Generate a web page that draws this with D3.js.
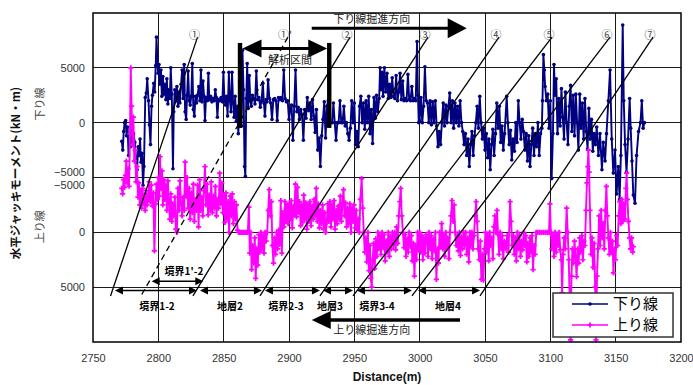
<!DOCTYPE html>
<html>
<head>
<meta charset="utf-8">
<script src="https://cdn.jsdelivr.net/npm/d3@7"></script>
<style>
  body { margin: 0; background: #fff; }
  svg { display: block; }
</style>
</head>
<body>
<svg id="chart" width="693" height="385"></svg>
<script>
// ---- data: horizontal jack moment (kN·m) against distance (m) ----
const downLine = [ // 下り線
  [2772.0,-1700],[2772.8,-2500],[2773.5,-800],[2774.2,0],[2775.0,200],[2775.7,-1200],[2776.5,-400],[2777.2,-3000],[2778.0,-1300],[2778.8,-2200],
  [2779.5,-700],[2780.3,-1900],[2781.0,-1000],[2782.0,-1800],[2783.0,-3500],[2783.8,-4300],[2784.5,-2200],[2785.3,-3000],[2786.0,-1500],[2786.8,-3600],
  [2787.5,-2800],[2788.3,-5700],[2789.0,-4000],[2790.0,2300],[2790.8,2700],[2791.5,4000],[2792.5,2000],[2793.2,-200],[2794.0,-2000],[2794.8,1500],
  [2795.5,2500],[2796.5,3600],[2797.2,2800],[2798.0,5200],[2798.6,7800],[2799.2,6000],[2799.8,4500],[2800.5,5300],[2801.2,3500],[2802.0,4800],
  [2802.7,2400],[2803.5,4200],[2804.2,2600],[2805.0,3500],[2805.8,2100],[2806.5,4000],[2807.3,1700],[2808.0,3000],[2808.8,2200],[2809.5,5000],
  [2810.3,2600],[2811.2,-4200],[2811.8,1000],[2812.6,3000],[2813.4,2000],[2814.2,3300],[2815.0,1500],[2815.8,2800],[2816.5,1800],[2817.4,3500],
  [2818.2,4800],[2819.0,2200],[2819.8,5300],[2820.5,1000],[2821.3,300],[2822.0,2500],[2822.8,4700],[2823.6,2000],[2824.4,1600],[2825.2,2400],
  [2826.0,5400],[2826.8,1200],[2827.6,600],[2828.4,2400],[2829.2,1800],[2830.0,2500],[2831.0,3300],[2831.8,2000],[2832.6,4800],[2833.4,1900],
  [2834.2,3800],[2835.0,2400],[2835.7,200],[2836.5,2300],[2837.5,2000],[2838.3,4500],[2839.0,2100],[2840.0,2400],[2841.0,1900],[2842.0,2200],
  [2842.8,2000],[2843.6,3000],[2844.4,2300],[2845.2,500],[2846.0,2100],[2847.0,2000],[2848.0,2300],[2849.0,1900],[2849.8,4600],[2850.6,2100],
  [2851.4,1600],[2852.2,2400],[2853.0,600],[2854.0,4600],[2854.8,2000],[2855.6,1000],[2856.4,4600],[2857.2,1800],[2858.0,500],[2858.8,2400],
  [2859.6,100],[2860.4,1500],[2861.2,-1000],[2862.0,800],[2862.8,2500],[2863.6,-300],[2864.4,6600],[2865.2,3000],[2866.0,-4000],[2866.6,-4900],
  [2867.3,2200],[2868.0,5400],[2868.8,1300],[2869.6,4300],[2870.4,2000],[2871.2,1500],[2872.0,2500],[2873.0,2200],[2874.0,1700],[2875.0,4700],
  [2876.0,2100],[2877.0,2300],[2878.0,1400],[2879.0,2000],[2880.0,3600],[2880.8,1800],[2881.6,600],[2882.4,2100],[2883.2,1900],[2884.0,3900],
  [2885.0,2200],[2886.0,1800],[2887.0,300],[2888.0,2100],[2889.0,2200],[2890.0,2000],[2891.0,200],[2892.0,2300],[2893.0,2100],[2894.0,2300],
  [2895.0,2000],[2896.0,4800],[2897.0,2200],[2898.0,1900],[2899.0,2000],[2900.0,300],[2901.0,1200],[2902.0,1600],[2903.0,-1600],[2904.0,1500],
  [2905.0,4800],[2906.0,1000],[2907.0,1400],[2908.0,300],[2909.0,1200],[2910.0,700],[2911.0,-1600],[2912.0,1200],[2913.0,400],[2914.0,2300],
  [2915.0,1100],[2916.0,1800],[2917.0,300],[2918.0,2100],[2919.0,600],[2920.0,-900],[2921.0,1200],[2922.0,-2500],[2923.0,-1400],[2924.0,-4000],
  [2925.0,-1200],[2926.0,300],[2927.0,1900],[2928.0,-1400],[2929.0,1500],[2930.0,2000],[2931.0,300],[2932.0,0],[2933.0,0],[2934.0,1800],
  [2935.0,0],[2936.0,-1600],[2937.0,0],[2938.0,0],[2939.0,2000],[2940.0,0],[2941.0,0],[2942.0,1500],[2943.0,-300],[2944.0,0],
  [2945.0,-1000],[2946.0,-1600],[2947.0,-500],[2948.0,2000],[2949.0,0],[2950.0,1800],[2951.0,-2000],[2952.0,-800],[2953.0,-2200],[2954.0,1500],
  [2955.0,2400],[2956.0,0],[2957.0,1800],[2958.0,-600],[2959.0,2000],[2960.0,0],[2961.0,2400],[2962.0,-1000],[2963.0,1200],[2964.0,-1900],
  [2965.0,2300],[2966.0,400],[2967.0,2500],[2968.0,1000],[2969.0,2200],[2969.7,5000],[2970.5,3000],[2971.3,4600],[2972.0,2400],[2973.0,5000],
  [2974.0,2800],[2975.0,4500],[2976.0,2200],[2977.0,3500],[2978.0,2300],[2979.0,4100],[2980.0,2400],[2981.0,2200],[2982.0,4300],[2983.0,2000],
  [2984.0,2800],[2985.0,4500],[2986.0,2100],[2987.0,3800],[2988.0,2000],[2989.0,2200],[2990.0,2000],[2991.0,4400],[2992.0,2100],[2993.0,2000],
  [2994.0,3300],[2995.0,2000],[2996.0,2200],[2997.0,2000],[2998.0,7400],[2998.7,2500],[2999.3,0],[3000.0,200],[3001.0,2300],[3002.0,0],
  [3003.0,1500],[3004.0,5100],[3005.0,2000],[3006.0,1800],[3007.0,0],[3008.0,2000],[3009.0,-200],[3010.0,1900],[3011.0,0],[3012.0,2000],
  [3013.0,-300],[3014.0,-2200],[3015.0,-800],[3016.0,-2000],[3017.0,0],[3018.0,1800],[3019.0,-300],[3020.0,1600],[3021.0,0],[3022.0,1500],
  [3023.0,2700],[3024.0,0],[3025.0,2000],[3026.0,-500],[3027.0,1800],[3028.0,0],[3029.0,1500],[3030.0,-300],[3031.0,2000],[3032.0,0],
  [3033.0,-800],[3034.0,-2000],[3035.0,-1000],[3036.0,-3000],[3037.0,-1500],[3038.0,-4000],[3039.0,-2000],[3040.0,-800],[3041.0,-3000],[3042.0,-1200],
  [3043.0,0],[3044.0,1500],[3045.0,-500],[3046.0,2400],[3047.0,0],[3048.0,-1500],[3049.0,-500],[3050.0,-2500],[3051.0,-1000],[3052.0,-3200],
  [3053.0,-1500],[3054.0,-4300],[3055.0,-2000],[3056.0,-600],[3057.0,-3000],[3058.0,-1000],[3059.0,1800],[3060.0,-500],[3061.0,1500],[3062.0,-1800],
  [3063.0,-300],[3064.0,-2500],[3065.0,-1000],[3066.6,2400],[3067.5,0],[3068.5,-2000],[3069.5,-700],[3070.5,-3400],[3071.5,-1500],[3072.5,-2600],
  [3073.5,0],[3074.5,-1800],[3075.5,2000],[3076.5,0],[3077.5,-1500],[3078.5,300],[3079.5,-800],[3080.5,-2500],[3081.5,-1000],[3082.5,-3500],
  [3083.5,-1200],[3084.5,-4000],[3085.5,-2000],[3086.5,-500],[3087.5,-3000],[3088.5,-1000],[3089.5,-2200],[3090.5,0],[3091.5,-3000],[3092.5,-1000],
  [3093.5,-500],[3094.0,2000],[3094.7,6200],[3095.4,4800],[3096.0,3300],[3097.0,2000],[3098.0,2600],[3099.0,-500],[3100.0,2000],[3101.0,-5100],
  [3102.0,-1000],[3102.8,5300],[3103.6,2500],[3104.5,4000],[3105.5,-1000],[3106.5,2200],[3107.5,-300],[3108.5,3100],[3109.5,500],[3110.5,-1500],
  [3111.5,2800],[3112.5,0],[3113.5,-2000],[3114.5,1500],[3115.5,3400],[3116.5,-800],[3117.5,2500],[3118.5,-1200],[3119.5,2600],[3120.5,0],
  [3121.5,-2500],[3122.5,2600],[3123.5,-500],[3124.5,1800],[3125.5,-1500],[3126.5,2200],[3127.5,-800],[3128.5,-2400],[3129.5,1300],[3130.5,-1500],
  [3131.5,300],[3132.5,-2600],[3133.5,-1000],[3134.5,-2000],[3135.5,-400],[3136.8,-3000],[3138.0,-1000],[3139.5,-4300],[3140.5,-1800],[3141.9,-3500],
  [3143.0,-1000],[3144.4,2000],[3145.7,4800],[3147.0,-1500],[3148.2,-4600],[3149.5,-2500],[3150.7,-6500],[3152.0,-4000],[3153.0,-7000],[3154.0,-3000],
  [3155.4,8900],[3156.2,2000],[3157.2,-2000],[3158.3,-4500],[3159.5,-1500],[3160.7,2200],[3161.5,-500],[3162.5,-3500],[3163.5,-6600],[3164.8,-7350],
  [3166.0,-3000],[3167.5,-800],[3169.0,0],[3170.0,2000],[3171.0,-500],[3172.0,0]
];

const upLine = [ // 上り線
  [2772.0,-4000],[2772.7,-3500],[2773.4,-4800],[2774.1,-4100],[2774.8,-5200],[2775.5,-6500],[2776.2,-4500],[2776.9,-5800],[2777.6,-4200],[2778.3,-9000],
  [2778.9,-15000],[2779.5,-11500],[2780.2,-8000],[2780.9,-10500],[2781.6,-6500],[2782.3,-7500],[2783.0,-4600],[2783.7,-6000],[2784.4,-3200],[2785.1,-4500],
  [2785.8,-2500],[2786.5,-3800],[2787.2,-2200],[2787.9,-4000],[2788.6,-2600],[2789.3,-3400],[2790.0,-2000],[2790.7,-3800],[2791.4,-2500],[2792.1,-3000],
  [2793.0,-4600],[2793.8,-2800],[2794.6,-4300],[2795.4,-2400],[2796.2,-3600],[2797.0,1700],[2797.8,-2600],[2798.6,-4400],[2799.3,-3000],[2800.0,-5000],
  [2800.7,-3300],[2801.3,-6900],[2802.0,-4000],[2802.8,-5600],[2803.5,-2500],[2804.3,-4800],[2805.0,-3000],[2805.8,-4300],[2806.5,-2000],[2807.3,-4700],
  [2808.0,-2800],[2808.8,-1200],[2809.5,-3500],[2810.3,-1000],[2811.0,-2600],[2811.8,-1500],[2812.6,-3200],[2813.4,-300],[2814.2,0],[2815.0,-4000],
  [2815.8,-2000],[2816.6,-4700],[2817.4,-2600],[2818.2,-1500],[2819.0,-3200],[2819.8,-2000],[2820.5,-6400],[2821.3,-3300],[2822.0,-5000],[2822.8,-2200],
  [2823.6,-4000],[2824.4,-1200],[2825.2,-3600],[2826.0,-1800],[2826.8,-4400],[2827.6,-1000],[2828.4,-3000],[2829.2,-2000],[2830.0,-4300],[2830.8,-500],
  [2831.6,-4800],[2832.4,-2000],[2833.2,-3200],[2834.0,-1500],[2834.8,-3800],[2835.7,-6000],[2836.5,-2500],[2837.3,-4400],[2838.1,-1600],[2838.9,-3400],
  [2839.7,-2000],[2840.5,-4600],[2841.3,-1800],[2842.1,-3300],[2842.9,-2200],[2843.7,-4200],[2844.5,-1500],[2845.3,-3000],[2846.1,-2200],[2847.0,-5400],
  [2847.8,-2600],[2848.6,-4500],[2849.4,-1800],[2850.2,-3400],[2851.0,-900],[2851.8,-3600],[2852.6,-1200],[2853.4,-2800],[2854.2,0],[2855.0,-3300],
  [2855.8,-1500],[2856.6,-3500],[2857.4,-800],[2858.2,-2800],[2859.0,-1200],[2859.8,-2500],[2860.6,-200],[2861.4,0],[2862.5,0],[2863.5,0],
  [2864.5,0],[2865.5,0],[2866.5,0],[2867.5,0],[2868.5,0],[2869.3,-2300],[2870.0,1900],[2870.7,0],[2871.4,3400],[2872.2,1200],
  [2873.0,2800],[2873.8,500],[2874.5,4200],[2875.3,1500],[2876.1,3000],[2876.9,200],[2877.7,1800],[2878.5,0],[2879.3,1500],[2880.1,300],
  [2880.9,1900],[2881.7,0],[2882.5,800],[2883.3,0],[2884.1,-2000],[2884.9,-3900],[2885.7,-1500],[2886.5,-2800],[2887.3,1200],[2888.1,2800],
  [2888.9,500],[2889.7,2000],[2890.5,0],[2891.3,1500],[2892.1,-200],[2892.9,1100],[2893.7,-2900],[2894.5,1900],[2895.3,-1800],[2896.1,-500],
  [2896.9,-2800],[2897.7,-1000],[2898.5,-2500],[2899.3,-800],[2900.1,-2600],[2900.9,-1200],[2901.7,-2900],[2902.5,-400],[2903.3,-2400],[2904.1,-1600],
  [2904.9,-4400],[2905.7,-1400],[2906.5,-4100],[2907.3,-1800],[2908.1,-2800],[2908.9,-600],[2909.7,-2500],[2910.5,-900],[2911.3,-3400],[2912.1,-1200],
  [2912.9,-2700],[2913.7,-300],[2914.5,-2500],[2915.3,-1000],[2916.1,-2800],[2916.9,-600],[2917.7,-2400],[2918.5,-1200],[2919.3,-3000],[2920.1,-1500],
  [2920.9,-4000],[2921.7,-1000],[2922.5,-2600],[2923.3,-400],[2924.1,-2000],[2924.9,-800],[2925.7,-2500],[2926.5,-300],[2927.3,-1800],[2928.1,0],
  [2928.9,-900],[2929.7,-2600],[2930.5,-1000],[2931.3,-2800],[2932.1,-500],[2932.9,-2500],[2933.7,-1200],[2934.5,-2900],[2935.3,-300],[2936.1,-2000],
  [2936.9,-800],[2937.7,-2400],[2938.5,-1200],[2939.3,-3300],[2940.1,-1000],[2940.9,-2600],[2941.7,-3900],[2942.5,-1500],[2943.3,-2700],[2944.1,-500],
  [2945.0,-2200],[2945.8,-800],[2946.6,-2600],[2947.4,0],[2948.2,-2200],[2949.0,-1000],[2949.8,-2500],[2950.6,-400],[2951.4,-2000],[2952.2,-200],
  [2953.0,-1200],[2953.8,0],[2954.6,-3000],[2955.6,-4900],[2956.4,-2200],[2957.2,0],[2958.0,1800],[2958.8,500],[2959.6,2700],[2960.4,0],
  [2961.2,3500],[2962.0,1200],[2962.6,4200],[2963.3,5000],[2964.0,2500],[2964.8,1000],[2965.6,3300],[2966.4,600],[2967.2,2200],[2968.0,0],
  [2968.8,1500],[2969.6,300],[2970.4,2000],[2971.2,0],[2972.0,1400],[2972.8,200],[2973.6,2600],[2974.4,800],[2975.2,1800],[2976.0,0],
  [2976.8,2200],[2977.6,400],[2978.4,1500],[2979.2,0],[2980.0,1200],[2980.8,0],[2981.6,1600],[2982.4,-500],[2983.2,1000],[2984.0,-1500],
  [2984.8,-2800],[2985.5,-4000],[2986.3,-1500],[2987.2,0],[2988.0,1400],[2988.8,200],[2989.6,2200],[2990.4,600],[2991.2,1800],[2992.0,0],
  [2992.8,1300],[2993.6,300],[2994.4,2600],[2995.2,1000],[2996.0,4000],[2996.8,1200],[2997.6,2500],[2998.4,0],[2999.2,1600],[3000.0,0],
  [3000.8,1800],[3001.6,300],[3002.4,2500],[3003.2,600],[3004.0,1900],[3004.8,200],[3005.6,500],[3006.4,2200],[3007.2,0],[3008.0,1500],
  [3008.8,300],[3009.6,2400],[3010.4,600],[3011.2,1700],[3012.0,0],[3012.8,4300],[3013.6,1500],[3014.4,2800],[3015.2,0],[3016.0,1300],
  [3016.8,-800],[3017.6,1500],[3018.4,200],[3019.2,2200],[3020.0,0],[3020.8,1400],[3021.6,500],[3022.4,2400],[3023.2,0],[3024.0,-1500],
  [3024.8,-2900],[3025.6,-1000],[3026.4,-2500],[3027.2,0],[3028.0,1200],[3028.8,300],[3029.6,1700],[3030.4,0],[3031.2,2100],[3032.0,400],
  [3032.8,1500],[3033.6,0],[3034.4,1200],[3035.2,0],[3036.0,2000],[3036.8,500],[3037.6,2700],[3038.4,0],[3039.2,1200],[3040.0,0],
  [3040.8,1500],[3041.6,300],[3042.4,-1500],[3043.2,-2800],[3044.0,-1000],[3044.8,1500],[3045.6,2500],[3046.4,800],[3047.2,4300],[3048.0,2000],
  [3048.8,4350],[3049.6,1500],[3050.4,0],[3051.2,1800],[3052.0,300],[3052.8,2600],[3053.6,0],[3054.4,1200],[3055.2,500],[3056.0,2400],
  [3056.8,-500],[3057.6,-1500],[3058.4,0],[3059.2,-2000],[3060.0,200],[3060.8,2000],[3061.6,0],[3062.4,1500],[3063.2,300],[3064.0,2400],
  [3064.8,800],[3066.0,1500],[3067.0,300],[3068.0,1800],[3069.2,-2800],[3070.0,-1000],[3070.8,1200],[3071.6,300],[3072.4,2000],[3073.2,500],
  [3074.0,2600],[3074.8,0],[3075.6,1500],[3076.4,300],[3077.2,2200],[3078.0,800],[3078.8,1600],[3079.6,0],[3080.4,1200],[3081.2,300],
  [3082.0,2700],[3082.8,1000],[3083.6,2200],[3084.4,500],[3085.2,1800],[3086.0,300],[3086.8,3400],[3087.6,1200],[3088.4,2000],[3089.2,0],
  [3090.5,0],[3092.0,0],[3093.5,0],[3095.0,0],[3096.5,0],[3098.0,0],[3099.0,0],[3099.7,-2600],[3100.4,0],[3101.2,1500],
  [3102.0,300],[3102.8,2200],[3103.6,0],[3104.4,1800],[3105.2,200],[3106.0,1200],[3106.8,0],[3107.6,1600],[3108.4,2500],[3109.0,5500],
  [3109.8,2000],[3110.6,500],[3111.4,1500],[3112.5,-2200],[3113.3,0],[3114.1,2500],[3114.8,6000],[3115.5,9800],[3116.2,4000],[3116.9,1500],
  [3117.7,2800],[3118.5,800],[3119.3,2200],[3120.1,4050],[3120.9,1500],[3121.7,2800],[3122.5,500],[3123.3,1800],[3124.1,300],[3124.9,2500],
  [3125.7,800],[3126.5,1200],[3127.3,-2000],[3128.0,-4500],[3128.6,-6000],[3129.1,-7500],[3129.7,-5500],[3130.3,-2000],[3131.1,2000],[3131.9,500],
  [3132.7,3200],[3133.5,1000],[3134.3,5000],[3135.0,9800],[3135.7,4000],[3136.5,1500],[3137.3,-1500],[3138.1,1200],[3138.9,-2000],[3139.7,500],
  [3140.5,-800],[3141.3,1500],[3142.1,-2000],[3142.9,-4200],[3143.6,-1500],[3144.4,500],[3145.2,2000],[3146.0,0],[3146.8,1800],[3147.6,800],
  [3148.3,3700],[3149.1,1500],[3149.9,2500],[3150.7,300],[3151.5,1200],[3152.3,-1500],[3153.1,-2800],[3153.9,-800],[3154.7,-3000],[3155.5,-1000],
  [3156.3,-2600],[3157.1,-1200],[3157.8,-4000],[3158.4,-5400],[3159.0,-3000],[3159.8,-1000],[3160.6,500],[3161.4,1500],[3162.2,500],[3163.0,1800],
  [3163.5,1300]
];

const distanceTicks = [2750, 2800, 2850, 2900, 2950, 3000, 3050, 3100, 3150, 3200];
const downTicks = [5000, 0, -5000];
const upTicks = [-5000, 0, 5000];

// boundary lines: distance where each line meets the top (下り線 axis) and the bottom (上り線 axis)
const boundaryNames  = ["①", "①'", "②", "③", "④", "⑤", "⑥", "⑦"];
const boundaryTop    = [2830.0, 2899.2, 2946.7, 3006.4, 3060.7, 3101.3, 3145.7, 3178.6];
const boundaryBottom = [2763.4, 2786.7, 2826.5, 2877.8, 2923.7, 2949.0, 2994.1, 3046.2];
const boundaryDashed = [false, true, false, false, false, false, false, false];
const boundaryTopMoment = 7800;    // on the 下り線 axis
const boundaryBottomMoment = 5800; // on the 上り線 axis

// strata spans along the bottom row (上り線 axis)
const strataNames = ["境界1-2", "地層2", "境界2-3", "地層3", "境界3-4", "地層4"];
const strataFrom  = [2766.8, 2831.9, 2881.6, 2926.0, 2952.0, 2998.7];
const strataTo    = [2829.6, 2879.3, 2923.7, 2949.0, 2994.1, 3046.2];
const strataLabelAt = [2799.0, 2854.8, 2897.7, 2931.4, 2967.3, 3021.7];

// analysed interval and tunnelling directions
const analysisFrom = 2862.5, analysisTo = 2930.8;
const downDriveFrom = 2917.4, downDriveTo = 3036.0;
const upDriveFrom = 3030.9, upDriveTo = 2917.4;

// ---- layout ----
const svg = d3.select("#chart");
const plot = { left: 93, right: 681, top: 13, bottom: 342 };
const x = d3.scaleLinear().domain([2750, 3200]).range([plot.left, plot.right]);
const yDown = d3.scaleLinear().domain([-20000, 10000]).range([plot.bottom, plot.top]);
const yUp = d3.scaleLinear().domain([-20000, 10000]).range([plot.top, plot.bottom]);

const NAVY = "#000080", MAGENTA = "#ff00ff";
const jp = "'Noto Sans CJK JP', 'Noto Sans', sans-serif";
const latin = "'Liberation Sans', Arial, sans-serif";

// grid
const grid = svg.append("g").attr("stroke", "#1a1a1a").attr("stroke-width", 1).attr("shape-rendering", "crispEdges");
distanceTicks.slice(1, -1).forEach(d => {
  grid.append("line").attr("x1", x(d)).attr("x2", x(d)).attr("y1", plot.top).attr("y2", plot.bottom);
});
[yDown(5000), yDown(0), yDown(-5000), yUp(0), yUp(5000)].forEach(py => {
  grid.append("line").attr("x1", plot.left).attr("x2", plot.right).attr("y1", py).attr("y2", py);
});

// series
const lineDown = d3.line().x(d => x(d[0])).y(d => yDown(d[1]));
const lineUp = d3.line().x(d => x(d[0])).y(d => yUp(d[1]));

const gDown = svg.append("g");
gDown.append("path").attr("d", lineDown(downLine)).attr("fill", "none")
  .attr("stroke", NAVY).attr("stroke-width", 1.9).attr("stroke-linejoin", "round");
gDown.selectAll("circle").data(downLine).join("circle")
  .attr("cx", d => x(d[0])).attr("cy", d => yDown(d[1])).attr("r", 1.8).attr("fill", NAVY);

const gUp = svg.append("g");
gUp.append("path").attr("d", lineUp(upLine)).attr("fill", "none")
  .attr("stroke", MAGENTA).attr("stroke-width", 1.9).attr("stroke-linejoin", "round");
const crossPath = d3.symbol(d3.symbolCross, 15)();
gUp.selectAll("path.m").data(upLine).join("path").attr("class", "m")
  .attr("d", crossPath).attr("transform", d => `translate(${x(d[0])},${yUp(d[1])})`).attr("fill", MAGENTA);

// boundary lines
const gB = svg.append("g");
boundaryNames.forEach((name, i) => {
  const x1 = x(boundaryTop[i]), y1 = yDown(boundaryTopMoment);
  const x2 = x(boundaryBottom[i]), y2 = yUp(boundaryBottomMoment);
  gB.append("line").attr("x1", x1).attr("y1", y1).attr("x2", x2).attr("y2", y2)
    .attr("stroke", "#000").attr("stroke-width", 1.3)
    .attr("stroke-dasharray", boundaryDashed[i] ? "6,4" : null);
  gB.append("text").attr("x", x1 - 3).attr("y", yDown(8000)).attr("dy", "0.35em")
    .attr("text-anchor", "middle").attr("font-family", jp).attr("font-size", 11)
    .attr("fill", "#444").text(name);
});

// arrow helpers
function head(g, tipX, y, dir, len, half) {
  g.append("path").attr("d", `M${tipX},${y}L${tipX - dir * len},${y - half}L${tipX - dir * len},${y + half}Z`).attr("fill", "#000");
}
function doubleArrow(g, a, b, y, len, half, width) {
  g.append("line").attr("x1", a + len * 0.5).attr("x2", b - len * 0.5).attr("y1", y).attr("y2", y)
    .attr("stroke", "#000").attr("stroke-width", width);
  head(g, a, y, -1, len, half);
  head(g, b, y, 1, len, half);
}

const gA = svg.append("g");
// strata row
const rowY = yUp(5300);
strataNames.forEach((name, i) => {
  doubleArrow(gA, x(strataFrom[i]), x(strataTo[i]), rowY, 8, 4, 1.5);
  gA.append("text").attr("x", x(strataLabelAt[i])).attr("y", yUp(6800)).attr("dy", "0.35em")
    .attr("text-anchor", "middle").attr("font-family", jp).attr("font-weight", "bold")
    .attr("font-size", 10).attr("fill", "#000").text(name);
});
// boundary 1'-2 span
doubleArrow(gA, x(2794.9), x(2834.4), yUp(4450), 8, 4, 1.5);
gA.append("text").attr("x", x(2819.6)).attr("y", yUp(3530)).attr("dy", "0.35em")
  .attr("text-anchor", "middle").attr("font-family", jp).attr("font-weight", "bold")
  .attr("font-size", 10).attr("fill", "#000").text("境界1'-2");

// analysed interval
[analysisFrom, analysisTo].forEach(d => {
  gA.append("rect").attr("x", x(d) - 2.2).attr("width", 4.4)
    .attr("y", yDown(7270)).attr("height", yDown(-480) - yDown(7270)).attr("fill", "#000");
});
doubleArrow(gA, x(analysisFrom) + 2.5, x(analysisTo) - 2, yDown(6770), 19, 9, 3);
gA.append("text").attr("x", x(2900.8)).attr("y", yDown(5720)).attr("dy", "0.35em")
  .attr("text-anchor", "middle").attr("font-family", jp).attr("font-size", 11)
  .attr("fill", "#222").text("解析区間");

// tunnelling directions
const downDriveY = yDown(8600);
gA.append("line").attr("x1", x(downDriveFrom)).attr("x2", x(downDriveTo) - 16)
  .attr("y1", downDriveY).attr("y2", downDriveY).attr("stroke", "#000").attr("stroke-width", 3);
head(gA, x(downDriveTo), downDriveY, 1, 19, 10);
gA.append("text").attr("x", x(2963.3)).attr("y", yDown(9400)).attr("dy", "0.35em")
  .attr("text-anchor", "middle").attr("font-family", jp).attr("font-size", 11)
  .attr("fill", "#222").text("下り線掘進方向");

const upDriveY = yUp(8000);
gA.append("line").attr("x1", x(upDriveFrom)).attr("x2", x(upDriveTo) + 16)
  .attr("y1", upDriveY).attr("y2", upDriveY).attr("stroke", "#000").attr("stroke-width", 3.5);
head(gA, x(upDriveTo), upDriveY, -1, 19, 9);
gA.append("text").attr("x", x(2963.3)).attr("y", yUp(8900)).attr("dy", "0.35em")
  .attr("text-anchor", "middle").attr("font-family", jp).attr("font-size", 11)
  .attr("fill", "#222").text("上り線掘進方向");

// frame
svg.append("rect").attr("x", plot.left).attr("y", plot.top)
  .attr("width", plot.right - plot.left).attr("height", plot.bottom - plot.top)
  .attr("fill", "none").attr("stroke", "#000").attr("stroke-width", 1.5);

// axes
const xAxis = svg.append("g").attr("transform", `translate(0,${plot.bottom})`)
  .call(d3.axisBottom(x).tickValues(distanceTicks).tickSize(0).tickPadding(12).tickFormat(d3.format("d")));
xAxis.select(".domain").remove();
xAxis.selectAll("text").attr("font-family", latin).attr("font-size", 11).attr("fill", "#333");

const yAxisDown = svg.append("g").attr("transform", `translate(${plot.left},0)`)
  .call(d3.axisLeft(yDown).tickValues(downTicks).tickSize(0).tickPadding(8).tickFormat(d3.format("d")));
yAxisDown.select(".domain").remove();
yAxisDown.selectAll("text").attr("font-family", latin).attr("font-size", 11).attr("fill", "#333")
  .attr("dy", d => d === -5000 ? "-0.15em" : "0.32em").text(d => d < 0 ? "−" + Math.abs(d) : d);

const yAxisUp = svg.append("g").attr("transform", `translate(${plot.left},0)`)
  .call(d3.axisLeft(yUp).tickValues(upTicks).tickSize(0).tickPadding(8).tickFormat(d3.format("d")));
yAxisUp.select(".domain").remove();
yAxisUp.selectAll("text").attr("font-family", latin).attr("font-size", 11).attr("fill", "#333")
  .attr("dy", d => d === -5000 ? "1.0em" : "0.32em").text(d => d < 0 ? "−" + Math.abs(d) : d);

// axis titles
svg.append("text").attr("x", 387).attr("y", 381).attr("text-anchor", "middle")
  .attr("font-family", latin).attr("font-weight", "bold").attr("font-size", 12).attr("fill", "#111")
  .text("Distance(m)");
svg.append("text").attr("transform", "translate(16,173) rotate(-90)").attr("text-anchor", "middle")
  .attr("dy", "0.35em").attr("font-family", jp).attr("font-weight", "bold").attr("font-size", 11.5)
  .attr("fill", "#111").text("水平ジャッキモーメント(kN・m)");
svg.append("text").attr("transform", `translate(40,${yDown(1700)}) rotate(-90)`).attr("text-anchor", "middle")
  .attr("dy", "0.35em").attr("font-family", jp).attr("font-size", 11).attr("fill", "#444").text("下り線");
svg.append("text").attr("transform", `translate(40,${yUp(-500)}) rotate(-90)`).attr("text-anchor", "middle")
  .attr("dy", "0.35em").attr("font-family", jp).attr("font-size", 11).attr("fill", "#444").text("上り線");

// legend
const lg = svg.append("g").attr("transform", "translate(553,293)");
lg.append("rect").attr("width", 120).attr("height", 44).attr("fill", "#fff")
  .attr("stroke", "#333").attr("stroke-width", 1.5);
[["下り線", NAVY, 11], ["上り線", MAGENTA, 32]].forEach(([name, color, yy], i) => {
  lg.append("line").attr("x1", 19).attr("x2", 55).attr("y1", yy).attr("y2", yy)
    .attr("stroke", color).attr("stroke-width", 1.6);
  if (i === 0) lg.append("circle").attr("cx", 37).attr("cy", yy).attr("r", 1.8).attr("fill", color);
  else lg.append("path").attr("d", crossPath).attr("transform", `translate(37,${yy})`).attr("fill", color);
  lg.append("text").attr("x", 60).attr("y", yy).attr("dy", "0.36em").attr("font-family", jp)
    .attr("font-size", 15).attr("fill", "#000").text(name);
});
</script>
</body>
</html>
